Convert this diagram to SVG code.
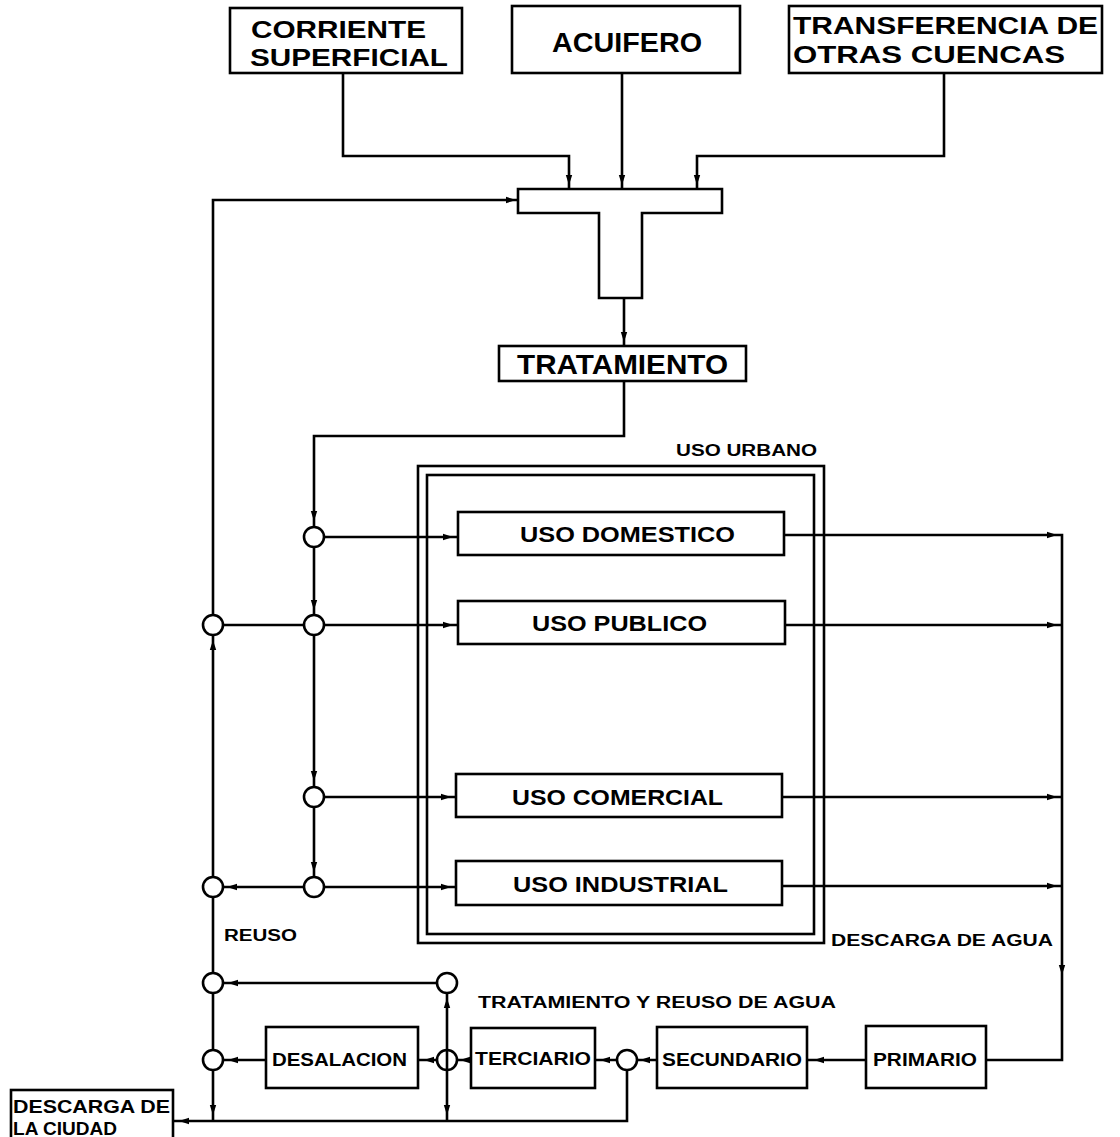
<svg xmlns="http://www.w3.org/2000/svg" xmlns:xlink="http://www.w3.org/1999/xlink" width="1120" height="1137" viewBox="0 0 1120 1137">
<style>
.b{fill:#fff;stroke:#000;stroke-width:2.6}
.l{fill:none;stroke:#000;stroke-width:2.6}
.c{fill:#fff;stroke:#000;stroke-width:2.6}
text{font-family:"Liberation Sans",Arial,Helvetica,sans-serif;font-weight:bold;fill:#000}
.big{font-size:28px}
.two{font-size:24px}
.mid{font-size:22px}
.sm{font-size:18px}
.lab{font-size:16px}
</style>
<defs>
<path id="ar" d="M1,0 L-9,-3.2 L-9,3.2 Z" fill="#000"/>
</defs>
<rect width="1120" height="1137" fill="#fff"/>

<g id="connectors">
<path class="l" d="M343,73 V156 H569 V189"/>
<path class="l" d="M622,73 V189"/>
<path class="l" d="M944,73 V156 H697 V189"/>
<path class="l" d="M213,1120 V200 H518"/>
<path class="l" d="M624,298 V346"/>
<path class="l" d="M624,381 V436 H314 V887"/>
<path class="l" d="M314,537 H458"/>
<path class="l" d="M213,625 H458"/>
<path class="l" d="M314,797 H456"/>
<path class="l" d="M213,887 H456"/>
<path class="l" d="M784,535 H1062 V1060 H986"/>
<path class="l" d="M785,625 H1062"/>
<path class="l" d="M782,797 H1062"/>
<path class="l" d="M782,886 H1062"/>
<path class="l" d="M213,983 H447 V1121"/>
<path class="l" d="M266,1060 H213"/>
<path class="l" d="M418,1060 H471"/>
<path class="l" d="M595,1060 H657"/>
<path class="l" d="M807,1060 H866"/>
<path class="l" d="M627,1060 V1121 H173"/>
<use href="#ar" transform="translate(569,184) rotate(90)"/>
<use href="#ar" transform="translate(622,184) rotate(90)"/>
<use href="#ar" transform="translate(697,184) rotate(90)"/>
<use href="#ar" transform="translate(515,200)"/>
<use href="#ar" transform="translate(624,341) rotate(90)"/>
<use href="#ar" transform="translate(314,520) rotate(90)"/>
<use href="#ar" transform="translate(314,609) rotate(90)"/>
<use href="#ar" transform="translate(314,780) rotate(90)"/>
<use href="#ar" transform="translate(314,871) rotate(90)"/>
<use href="#ar" transform="translate(452,537)"/>
<use href="#ar" transform="translate(452,625)"/>
<use href="#ar" transform="translate(450,797)"/>
<use href="#ar" transform="translate(450,887)"/>
<use href="#ar" transform="translate(1056,535)"/>
<use href="#ar" transform="translate(1056,625)"/>
<use href="#ar" transform="translate(1056,797)"/>
<use href="#ar" transform="translate(1056,886)"/>
<use href="#ar" transform="translate(1062,974) rotate(90)"/>
<use href="#ar" transform="translate(213,641) rotate(-90)"/>
<use href="#ar" transform="translate(228,887) rotate(180)"/>
<use href="#ar" transform="translate(229,983) rotate(180)"/>
<use href="#ar" transform="translate(229,1060) rotate(180)"/>
<use href="#ar" transform="translate(425,1060) rotate(180)"/>
<use href="#ar" transform="translate(461,1060) rotate(180)"/>
<use href="#ar" transform="translate(601,1060) rotate(180)"/>
<use href="#ar" transform="translate(641,1060) rotate(180)"/>
<use href="#ar" transform="translate(815,1060) rotate(180)"/>
<use href="#ar" transform="translate(213,1114) rotate(90)"/>
<use href="#ar" transform="translate(447,999) rotate(-90)"/>
<use href="#ar" transform="translate(447,1114) rotate(90)"/>
<use href="#ar" transform="translate(180,1121) rotate(180)"/>
</g>

<g id="corriente">
<rect class="b" x="230" y="8" width="232" height="65"/>
<text class="two" x="251" y="38" textLength="175" lengthAdjust="spacingAndGlyphs">CORRIENTE</text>
<text class="two" x="250" y="66" textLength="198" lengthAdjust="spacingAndGlyphs">SUPERFICIAL</text>
</g>
<g id="acuifero">
<rect class="b" x="512" y="6" width="228" height="67"/>
<text class="big" x="552" y="52" textLength="150" lengthAdjust="spacingAndGlyphs">ACUIFERO</text>
</g>
<g id="transferencia">
<rect class="b" x="789" y="6" width="313" height="67"/>
<text class="two" x="793" y="34" textLength="305" lengthAdjust="spacingAndGlyphs">TRANSFERENCIA DE</text>
<text class="two" x="793" y="63" textLength="272" lengthAdjust="spacingAndGlyphs">OTRAS CUENCAS</text>
</g>
<g id="mezcla">
<path class="b" d="M518,189 H722 V213 H642 V298 H599 V213 H518 Z"/>
</g>
<g id="tratamiento">
<rect class="b" x="499" y="346" width="247" height="35"/>
<text class="big" x="517" y="374" textLength="211" lengthAdjust="spacingAndGlyphs">TRATAMIENTO</text>
</g>
<g id="uso-urbano">
<rect class="l" x="418" y="466" width="406" height="477"/>
<rect class="l" x="427" y="475" width="387" height="459"/>
<text class="lab" x="676" y="456" textLength="141" lengthAdjust="spacingAndGlyphs">USO URBANO</text>
</g>
<g id="uso-domestico">
<rect class="b" x="458" y="512" width="326" height="43"/>
<text class="mid" x="520" y="542" textLength="215" lengthAdjust="spacingAndGlyphs">USO DOMESTICO</text>
</g>
<g id="uso-publico">
<rect class="b" x="458" y="601" width="327" height="43"/>
<text class="mid" x="532" y="631" textLength="175" lengthAdjust="spacingAndGlyphs">USO PUBLICO</text>
</g>
<g id="uso-comercial">
<rect class="b" x="456" y="774" width="326" height="43"/>
<text class="mid" x="512" y="805" textLength="211" lengthAdjust="spacingAndGlyphs">USO COMERCIAL</text>
</g>
<g id="uso-industrial">
<rect class="b" x="456" y="861" width="326" height="44"/>
<text class="mid" x="513" y="892" textLength="215" lengthAdjust="spacingAndGlyphs">USO INDUSTRIAL</text>
</g>
<g id="labels">
<text class="lab" x="224" y="941" textLength="73" lengthAdjust="spacingAndGlyphs">REUSO</text>
<text class="lab" x="831" y="946" textLength="222" lengthAdjust="spacingAndGlyphs">DESCARGA DE AGUA</text>
<text class="lab" x="478" y="1008" textLength="358" lengthAdjust="spacingAndGlyphs">TRATAMIENTO Y REUSO DE AGUA</text>
</g>
<g id="nodos">
<circle class="c" cx="314" cy="537" r="10"/>
<circle class="c" cx="314" cy="625" r="10"/>
<circle class="c" cx="314" cy="797" r="10"/>
<circle class="c" cx="314" cy="887" r="10"/>
<circle class="c" cx="213" cy="625" r="10"/>
<circle class="c" cx="213" cy="887" r="10"/>
<circle class="c" cx="213" cy="983" r="10"/>
<circle class="c" cx="447" cy="983" r="10"/>
<circle class="c" cx="213" cy="1060" r="10"/>
<circle class="c" cx="447" cy="1060" r="10"/>
<circle class="c" cx="627" cy="1060" r="10"/>
<path class="l" d="M447,1050 V1070"/>
</g>
<g id="desalacion">
<rect class="b" x="266" y="1027" width="152" height="61"/>
<text class="sm" x="272" y="1066" textLength="135" lengthAdjust="spacingAndGlyphs">DESALACION</text>
</g>
<g id="terciario">
<rect class="b" x="471" y="1028" width="124" height="60"/>
<text class="sm" x="475" y="1065" textLength="116" lengthAdjust="spacingAndGlyphs">TERCIARIO</text>
</g>
<g id="secundario">
<rect class="b" x="657" y="1027" width="150" height="61"/>
<text class="sm" x="662" y="1066" textLength="140" lengthAdjust="spacingAndGlyphs">SECUNDARIO</text>
</g>
<g id="primario">
<rect class="b" x="866" y="1026" width="120" height="62"/>
<text class="sm" x="873" y="1066" textLength="104" lengthAdjust="spacingAndGlyphs">PRIMARIO</text>
</g>
<g id="descarga-ciudad">
<rect class="b" x="11" y="1090" width="162" height="52"/>
<text class="sm" x="13" y="1113" textLength="157" lengthAdjust="spacingAndGlyphs">DESCARGA DE</text>
<text class="sm" x="13" y="1135" textLength="104" lengthAdjust="spacingAndGlyphs">LA CIUDAD</text>
</g>
</svg>
